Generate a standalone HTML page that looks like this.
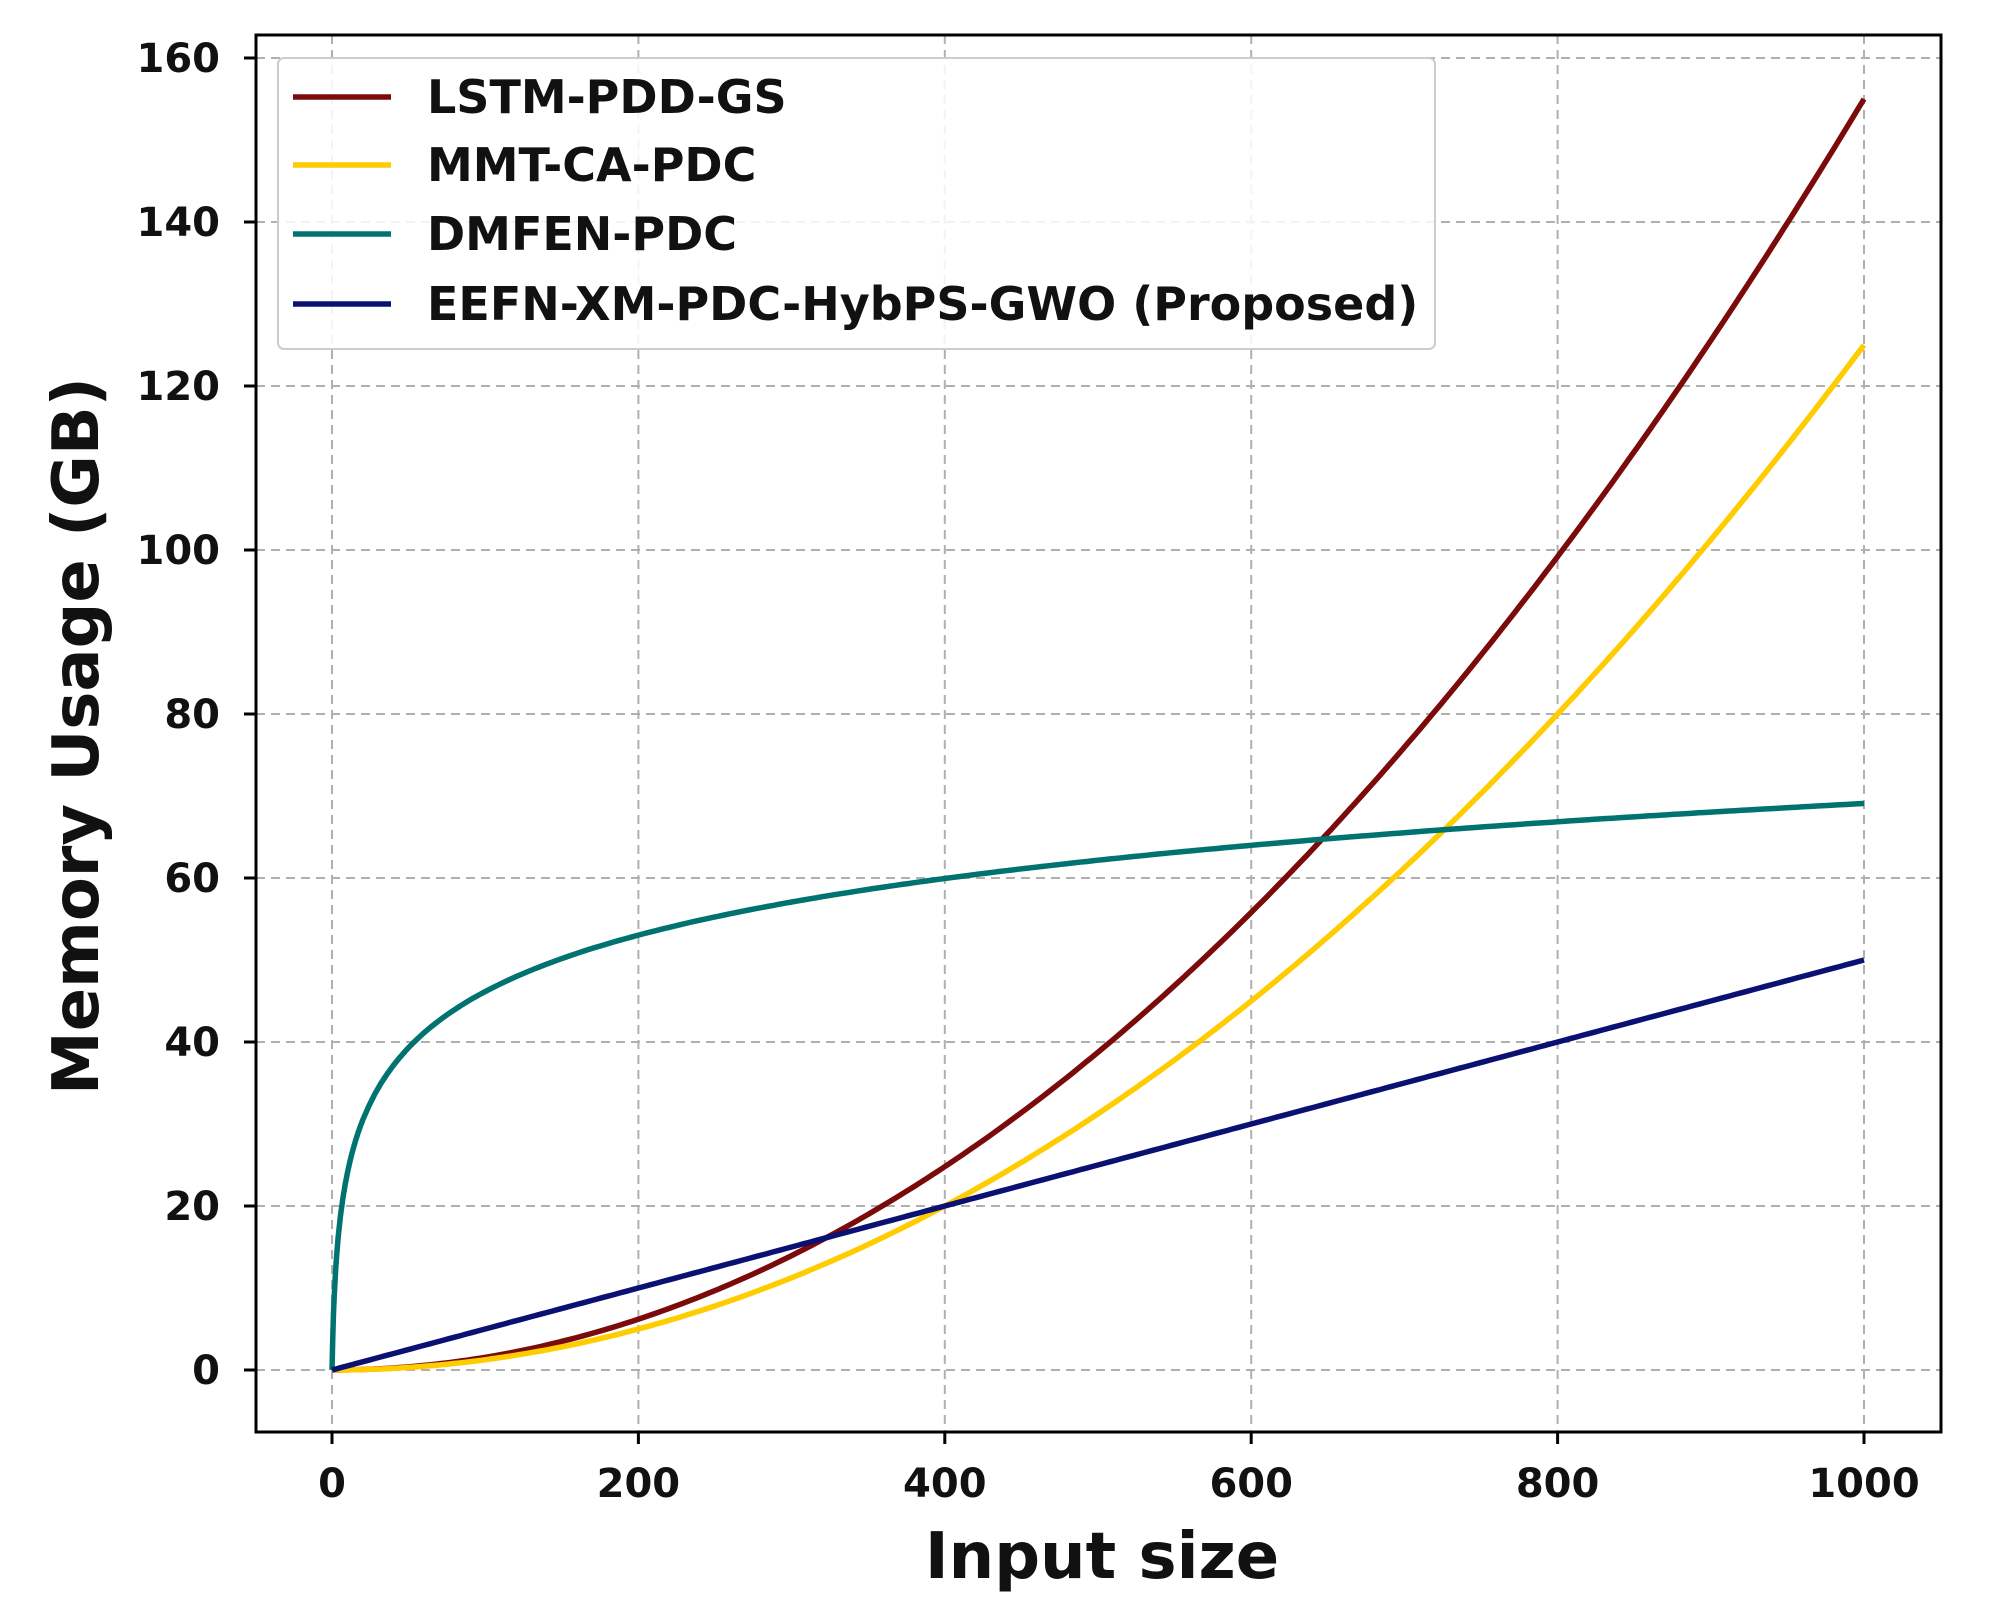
<!DOCTYPE html>
<html><head><meta charset="utf-8"><style>
html,body{margin:0;padding:0;background:#fff;}
svg{display:block;font-family:"DejaVu Sans","Liberation Sans",sans-serif;font-weight:bold;}
</style></head><body>
<svg id="s" width="2008" height="1614" viewBox="0 0 2008 1614" xmlns="http://www.w3.org/2000/svg">
<rect width="2008" height="1614" fill="#fff"/>
<g id="grid" stroke="#b0b0b0" stroke-width="2" stroke-dasharray="9,6"></g>
<g id="ticks" stroke="#000" stroke-width="3"></g>
<g id="lbl" font-size="40" fill="#111"></g>
<g id="series" fill="none" stroke-width="5.5" stroke-linejoin="round"></g>
<rect x="256" y="35" width="1685" height="1397" fill="none" stroke="#000" stroke-width="3"/>
<rect x="278" y="58" width="1157" height="291" rx="6" fill="#fff" fill-opacity="0.85" stroke="#ccc" stroke-width="2"/>
<g stroke-width="5.5">
<line x1="293" y1="97" x2="391" y2="97" stroke="#7b0a0a"/>
<line x1="293" y1="165" x2="391" y2="165" stroke="#ffcc00"/>
<line x1="293" y1="234" x2="391" y2="234" stroke="#007370"/>
<line x1="293" y1="304" x2="391" y2="304" stroke="#0a1172"/>
</g>
<g font-size="46" fill="#111">
<text x="427" y="113">LSTM-PDD-GS</text>
<text x="427" y="181">MMT-CA-PDC</text>
<text x="427" y="250">DMFEN-PDC</text>
<text x="427" y="320">EEFN-XM-PDC-HybPS-GWO (Proposed)</text>
</g>
<text x="1102" y="1578" font-size="64" text-anchor="middle" fill="#111">Input size</text>
<text transform="translate(98,736) rotate(-90)" font-size="64" text-anchor="middle" fill="#111">Memory Usage (GB)</text>
<script>
var ns="http://www.w3.org/2000/svg";
function px(x){return 332+1.532*x;} function py(y){return 1370-8.2*y;}
function el(p,t,a,txt){var e=document.createElementNS(ns,t);for(var k in a)e.setAttribute(k,a[k]);if(txt!==undefined)e.textContent=txt;document.getElementById(p).appendChild(e);}
for(var x=0;x<=1000;x+=200){el("grid","line",{x1:px(x),y1:35,x2:px(x),y2:1432});el("ticks","line",{x1:px(x),y1:1432,x2:px(x),y2:1444});el("lbl","text",{x:px(x),y:1497,"text-anchor":"middle"},x);}
for(var y=0;y<=160;y+=20){el("grid","line",{x1:256,y1:py(y),x2:1941,y2:py(y)});el("ticks","line",{x1:244,y1:py(y),x2:256,y2:py(y)});el("lbl","text",{x:220,y:py(y)+14,"text-anchor":"end"},y);}
var fs=[["#7b0a0a",function(x){return 155*Math.pow(x/1000,2);}],["#ffcc00",function(x){return 125*Math.pow(x/1000,2);}],["#007370",function(x){return 10*Math.log(x+1);}],["#0a1172",function(x){return 0.05*x;}]];
fs.forEach(function(f){var d="";for(var i=0;i<=1000;i+=(i<20?0.5:4)){d+=(d?"L":"M")+px(i).toFixed(1)+","+py(f[1](i)).toFixed(1);}el("series","path",{d:d,stroke:f[0]});});
</script>
</svg>
</body></html>
